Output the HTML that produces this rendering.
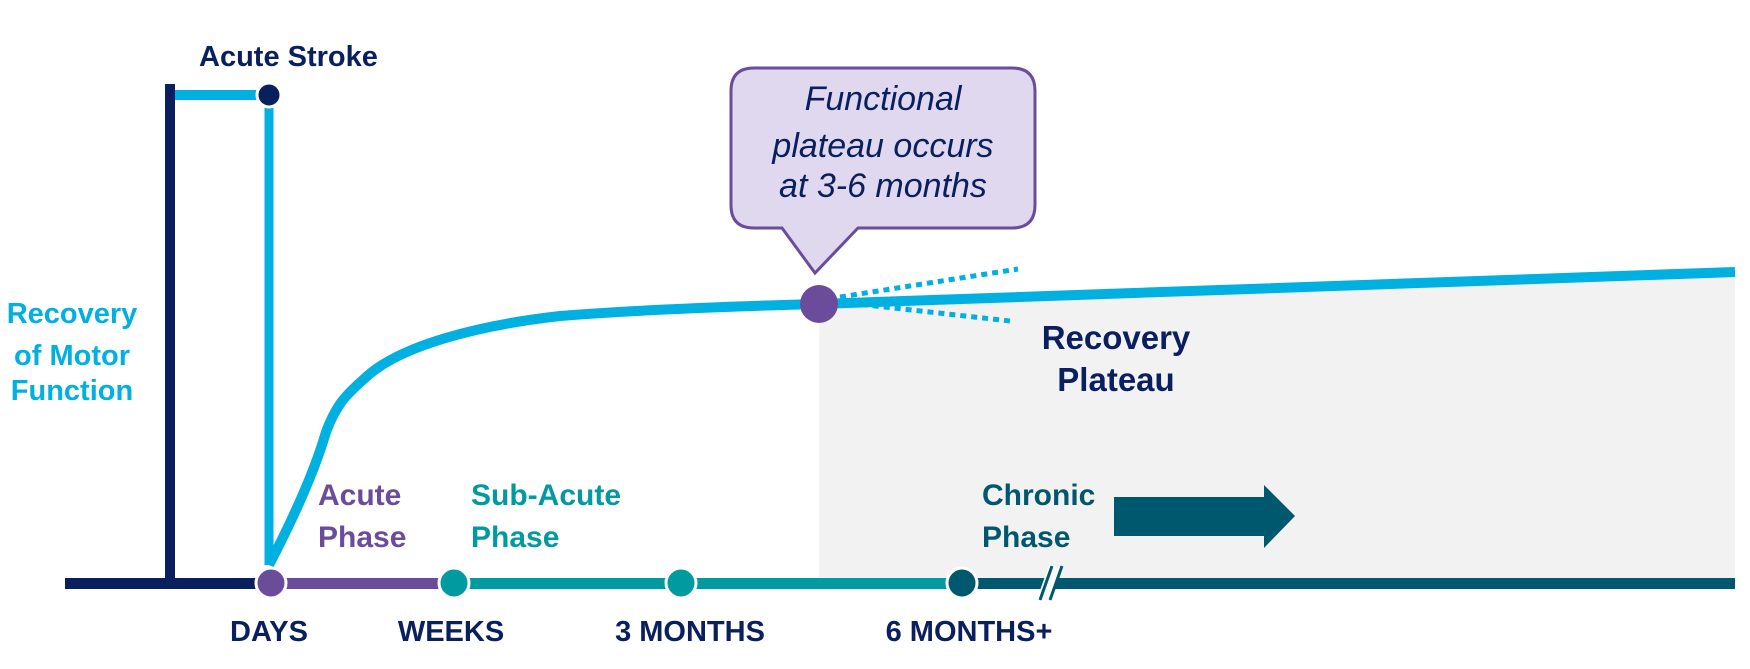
<!DOCTYPE html>
<html><head><meta charset="utf-8"><style>
html,body{margin:0;padding:0;background:#fff}
svg{display:block}
text{font-family:"Liberation Sans",sans-serif;font-weight:bold}
</style></head><body>
<svg width="1750" height="669" viewBox="0 0 1750 669">
<polygon points="819,302 1735,272 1735,580 819,580" fill="#f2f2f2"/>
<rect x="165" y="84" width="10" height="500" fill="#0a1f5e"/>
<rect x="65" y="578" width="206" height="11" fill="#0a1f5e"/>
<rect x="271" y="578" width="183" height="11" fill="#6b4c9a"/>
<rect x="454" y="578" width="508" height="11" fill="#009aa0"/>
<rect x="962" y="578" width="773" height="11" fill="#00586e"/>
<line x1="1043" y1="600" x2="1055" y2="566" stroke="#fff" stroke-width="12"/>
<line x1="1040" y1="600" x2="1052" y2="566" stroke="#00586e" stroke-width="3"/>
<line x1="1050" y1="600" x2="1062" y2="566" stroke="#00586e" stroke-width="3"/>
<line x1="175" y1="95" x2="262" y2="95" stroke="#00b0e0" stroke-width="10"/>
<line x1="269" y1="105" x2="269" y2="565" stroke="#00b0e0" stroke-width="9"/>
<path d="M269,565 C295,515 315,470 326,432 C338,400 350,392 365,378 C400,345 480,325 560,316 C650,309 740,306 819,304 L1735,272" fill="none" stroke="#00b0e0" stroke-width="10"/>
<line x1="840" y1="297" x2="1018" y2="269" stroke="#00b0e0" stroke-width="5" stroke-dasharray="6,5"/>
<line x1="840" y1="302" x2="1010" y2="321" stroke="#00b0e0" stroke-width="5" stroke-dasharray="6,5"/>
<path d="M754,68 H1012 Q1035,68 1035,91 V205 Q1035,228 1012,228 H858 L815,273 L782,228 H754 Q731,228 731,205 V91 Q731,68 754,68 Z" fill="#e0d8ee" stroke="#6b4c9a" stroke-width="3"/>
<g font-style="italic" fill="#0a1f5e" font-size="34" text-anchor="middle">
<text x="883" y="110" style="font-weight:normal">Functional</text>
<text x="883" y="157" style="font-weight:normal">plateau occurs</text>
<text x="883" y="197" style="font-weight:normal">at  3-6 months</text>
</g>
<circle cx="269" cy="95" r="12" fill="#0a1f5e" stroke="#fff" stroke-width="3"/>
<circle cx="819" cy="304" r="19" fill="#6b4c9a"/>
<circle cx="271" cy="583" r="15" fill="#6b4c9a" stroke="#fff" stroke-width="3"/>
<circle cx="454" cy="583" r="15" fill="#009aa0" stroke="#fff" stroke-width="3"/>
<circle cx="681" cy="583" r="15" fill="#009aa0" stroke="#fff" stroke-width="3"/>
<circle cx="962" cy="583" r="15" fill="#00586e" stroke="#fff" stroke-width="3"/>
<polygon points="1114,497 1264,497 1264,485 1295,516 1264,548 1264,536 1114,536" fill="#00586e"/>
<text x="199" y="66" font-size="29" fill="#0a1f5e">Acute Stroke</text>
<g font-size="29" fill="#00b0e0" text-anchor="middle">
<text x="72" y="323">Recovery</text>
<text x="72" y="365">of Motor</text>
<text x="72" y="400">Function</text>
</g>
<g font-size="30" fill="#6b4c9a"><text x="318" y="505">Acute</text><text x="318" y="547">Phase</text></g>
<g font-size="30" fill="#009aa0"><text x="471" y="505">Sub-Acute</text><text x="471" y="547">Phase</text></g>
<g font-size="30" fill="#00586e"><text x="982" y="505">Chronic</text><text x="982" y="547">Phase</text></g>
<g font-size="33" fill="#0a1f5e" text-anchor="middle"><text x="1116" y="349">Recovery</text><text x="1116" y="391">Plateau</text></g>
<g font-size="29" fill="#0a1f5e" text-anchor="middle">
<text x="269" y="641">DAYS</text>
<text x="451" y="641">WEEKS</text>
<text x="690" y="641">3 MONTHS</text>
<text x="969" y="641">6 MONTHS+</text>
</g>
</svg>
</body></html>
